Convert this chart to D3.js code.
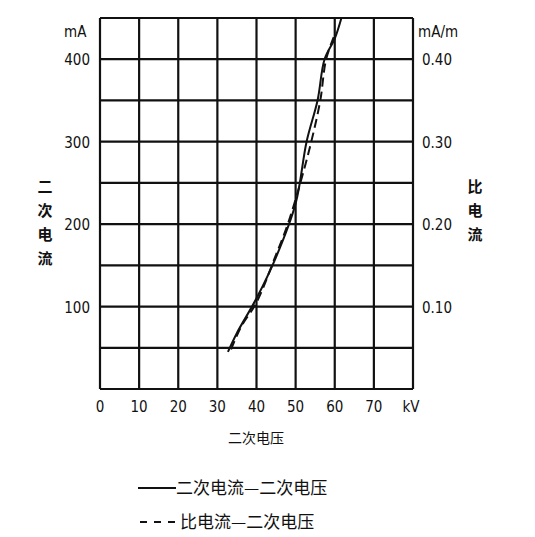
<!DOCTYPE html>
<html><head><meta charset="utf-8">
<script src="https://cdn.jsdelivr.net/npm/d3@7"></script>
<style>body{margin:0;background:#fff}text{font-family:"DejaVu Sans Condensed","Liberation Sans Narrow",sans-serif;fill:#111}</style>
</head><body><svg id="c" width="535" height="537"></svg>
<script>
const xTicks = [0, 10, 20, 30, 40, 50, 60, 70];
const yTicks = [100, 200, 300, 400];
const rTicks = [0.10, 0.20, 0.30, 0.40];
// 二次电流 (mA) vs 二次电压 (kV)
const solidKV = [32.7, 35, 40, 45, 50, 52.8, 55.6, 57.4, 60, 61.7];
const solidMA = [45, 68, 110, 160, 225, 300, 350, 400, 425, 450];
// 比电流 (mA/m) vs 二次电压 (kV)
const dashKV = [33.5, 36, 40, 45, 48, 51.2, 54, 56.3, 57.8, 60];
const dashR = [0.048, 0.075, 0.105, 0.163, 0.2, 0.25, 0.3, 0.35, 0.4, 0.43];

const svg = d3.select("#c");
const x = d3.scaleLinear().domain([0, 80]).range([100, 413]);
const y = d3.scaleLinear().domain([0, 450]).range([389, 18]);
const yr = d3.scaleLinear().domain([0, 0.45]).range([389, 18]);

const g = svg.append("g").attr("stroke", "#111").attr("stroke-width", 2.2);
d3.range(0, 81, 10).forEach(v => g.append("line").attr("x1", x(v)).attr("x2", x(v)).attr("y1", y(0)).attr("y2", y(450)));
d3.range(0, 451, 50).forEach(v => g.append("line").attr("x1", x(0)).attr("x2", x(80)).attr("y1", y(v)).attr("y2", y(v)));

svg.selectAll(".xt").data(xTicks).join("text").attr("x", d => x(d)).attr("y", 412)
  .attr("text-anchor", "middle").attr("font-size", 15).text(d => d);
svg.append("text").attr("x", 411).attr("y", 412).attr("text-anchor", "middle").attr("font-size", 15).text("kV");
svg.selectAll(".yt").data(yTicks).join("text").attr("x", 90).attr("y", d => y(d) + 6)
  .attr("text-anchor", "end").attr("font-size", 15).text(d => d);
svg.append("text").attr("x", 64).attr("y", 37).attr("font-size", 15).text("mA");
svg.selectAll(".rt").data(rTicks).join("text").attr("x", 422).attr("y", d => yr(d) + 6)
  .attr("font-size", 15).text(d => d.toFixed(2));
svg.append("text").attr("x", 418).attr("y", 37).attr("font-size", 15).text("mA/m");

const cjk = "'Noto Sans CJK SC'";
["二","次","电","流"].forEach((c, i) => svg.append("text").attr("x", 45).attr("y", 192 + i * 24)
  .attr("text-anchor", "middle").attr("font-size", 15).attr("font-weight", "bold").style("font-family", cjk).text(c));
["比","电","流"].forEach((c, i) => svg.append("text").attr("x", 475).attr("y", 192 + i * 24)
  .attr("text-anchor", "middle").attr("font-size", 15).attr("font-weight", "bold").style("font-family", cjk).text(c));
svg.append("text").attr("x", 256).attr("y", 443).attr("text-anchor", "middle").attr("font-size", 14)
  .style("font-family", cjk).text("二次电压");

const line = d3.line().curve(d3.curveCatmullRom);
svg.append("path").attr("d", line(solidKV.map((k, i) => [x(k), y(solidMA[i])])))
  .attr("fill", "none").attr("stroke", "#111").attr("stroke-width", 2);
svg.append("path").attr("d", line(dashKV.map((k, i) => [x(k), yr(dashR[i])])))
  .attr("fill", "none").attr("stroke", "#111").attr("stroke-width", 2).attr("stroke-dasharray", "9,5");

svg.append("line").attr("x1", 138).attr("x2", 176).attr("y1", 488).attr("y2", 488).attr("stroke", "#111").attr("stroke-width", 2);
svg.append("text").attr("x", 176).attr("y", 494).attr("font-size", 17).style("font-family", cjk).text("二次电流—二次电压");
svg.append("line").attr("x1", 140).attr("x2", 176).attr("y1", 522).attr("y2", 522).attr("stroke", "#111").attr("stroke-width", 2).attr("stroke-dasharray", "7,7");
svg.append("text").attr("x", 180).attr("y", 528).attr("font-size", 17).style("font-family", cjk).text("比电流—二次电压");
</script></body></html>
